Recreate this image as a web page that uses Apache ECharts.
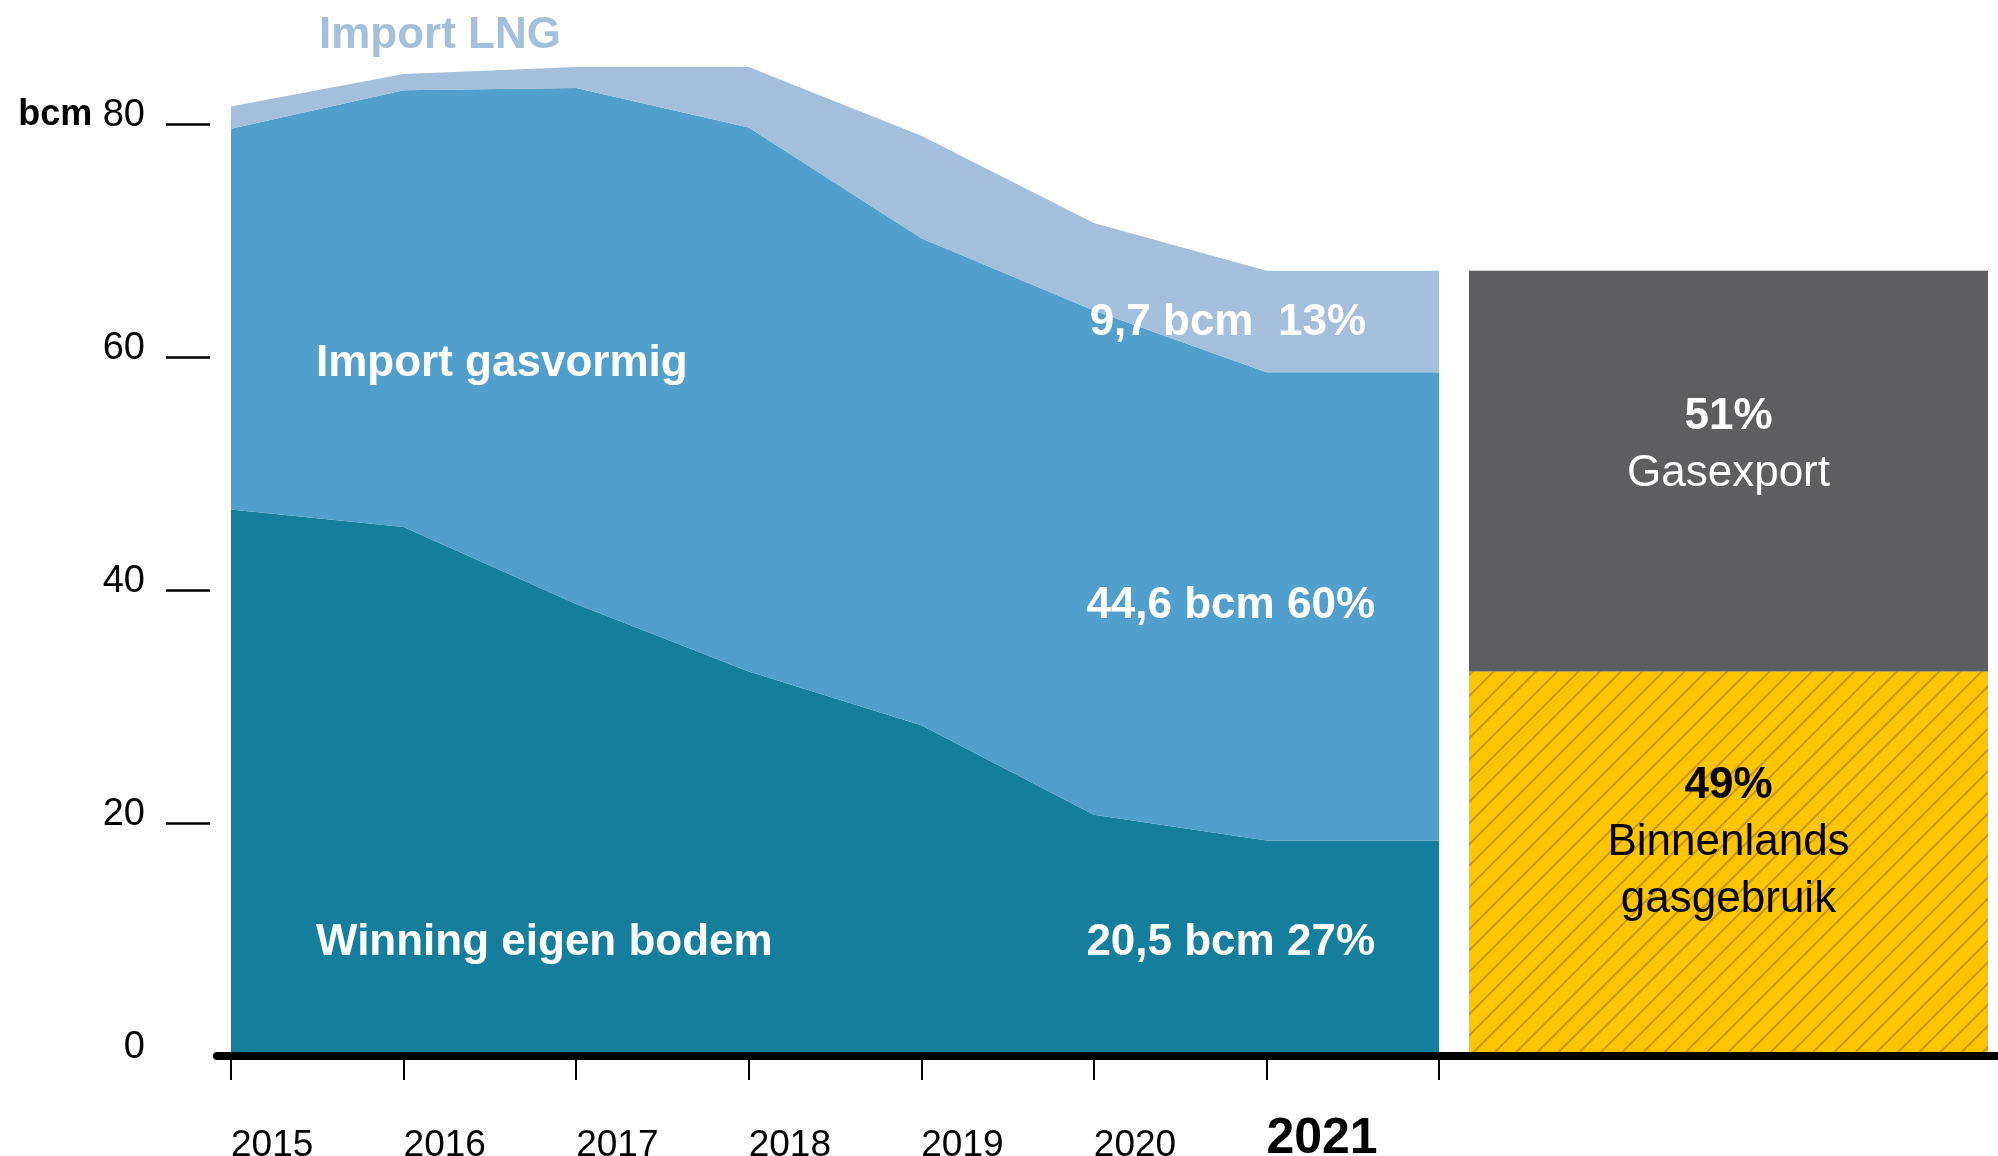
<!DOCTYPE html>
<html>
<head>
<meta charset="utf-8">
<script src="https://cdn.jsdelivr.net/npm/echarts@6/dist/echarts.min.js"></script>
<style>
  body { margin: 0; background: #fff; }
  #chart { width: 1998px; height: 1156px; }
</style>
</head>
<body>
<div id="chart"></div>
<script>
// years on the x axis, the last empty slot closes the 2021 step
var years = ['2015', '2016', '2017', '2018', '2019', '2020', '2021', ''];
// bcm
var winning = [46.9, 45.4, 38.8, 33.0, 28.4, 20.7, 18.5, 18.5];
var importGas = [32.7, 37.5, 44.3, 46.7, 41.8, 43.3, 40.2, 40.2];
var importLng = [1.9, 1.4, 1.8, 5.2, 8.8, 7.5, 8.7, 8.7];
// split of the 2021 total
var binnenlands = [33.0];
var gasexport = [34.4];
var yLabels = [0, 20, 40, 60, 80];
var yTicks = [20, 40, 60, 80];

var font = '"Liberation Sans", Arial, sans-serif';

var chart = echarts.init(document.getElementById('chart'));

//area series share everything but colour
function area(name, data, color) {
    return {
        name: name,
        type: 'line',
        stack: 'gas',
        data: data,
        xAxisIndex: 0,
        yAxisIndex: 0,
        symbol: 'none',
        clip: false,
        silent: true,
        lineStyle: { width: 0 },
        areaStyle: { color: color, opacity: 1 }
    };
}

//text inside the areas, placed in data coordinates
function note(x, y, text, side, dist, color) {
    return {
        value: [x, y],
        label: {
            show: true,
            formatter: text,
            position: side,
            distance: dist,
            opacity: 1,
            color: color || '#fff',
            fontFamily: font,
            fontWeight: 'bold',
            fontSize: 44
        }
    };
}

chart.setOption({
    animation: false,
    grid: [
        { left: 231, top: 124, width: 1208, height: 932, outerBoundsMode: 'none' },
        { left: 1469, top: 124, width: 519, height: 932, outerBoundsMode: 'none' },
        { left: 217, top: 124, right: 0, height: 932, outerBoundsMode: 'none' }
    ],
    xAxis: [
        {
            gridIndex: 0,
            type: 'category',
            data: years,
            boundaryGap: false,
            axisLine: { show: false },
            axisTick: { show: true, length: 24, interval: 0, lineStyle: { color: '#000', width: 2 } },
            axisLabel: {
                interval: 0,
                align: 'left',
                verticalAlign: 'bottom',
                margin: 108,
                color: '#000',
                fontFamily: font,
                fontSize: 37,
                formatter: function (v) { return v === '2021' ? '{b|2021}' : v; },
                rich: { b: { fontFamily: font, fontWeight: 'bold', fontSize: 50, color: '#000' } }
            },
            splitLine: { show: false }
        },
        {
            gridIndex: 1,
            type: 'category',
            data: ['2021'],
            show: false
        },
        {
            gridIndex: 2,
            type: 'value',
            min: 0,
            max: 1,
            z: 5,
            axisLine: { show: true, lineStyle: { color: '#000', width: 8 } },
            axisTick: { show: false },
            axisLabel: { show: false },
            splitLine: { show: false }
        }
    ],
    yAxis: [
        {
            gridIndex: 0,
            type: 'value',
            min: 0,
            max: 80,
            interval: 20,
            offset: 21,
            axisLine: { show: false },
            axisTick: { show: true, length: 44, customValues: yTicks, lineStyle: { color: '#000', width: 2.5 } },
            axisLabel: {
                customValues: yLabels,
                margin: 65,
                color: '#000',
                fontFamily: font,
                fontSize: 38,
                verticalAlign: 'middle',
                padding: [0, 0, 17, 0],
                formatter: function (v) { return v === 80 ? '{u|bcm} 80' : String(v); },
                rich: { u: { fontFamily: font, fontWeight: 'bold', fontSize: 36, color: '#000' } }
            },
            splitLine: { show: false }
        },
        { gridIndex: 1, type: 'value', min: 0, max: 80, show: false },
        { gridIndex: 2, type: 'value', min: 0, max: 1, show: false }
    ],
    series: [
        area('Winning eigen bodem', winning, '#157e9c'),
        area('Import gasvormig', importGas, '#519fcc'),
        area('Import LNG', importLng, '#a3bfdb'),
        {
            type: 'scatter',
            xAxisIndex: 0,
            yAxisIndex: 0,
            symbolSize: 0,
            clip: false,
            silent: true,
            z: 10,
            itemStyle: { opacity: 1 },
            data: [
                note(0, 87.6, 'Import LNG', 'right', 88, '#a3bfdb'),
                note(0, 59.4, 'Import gasvormig', 'right', 85),
                note(0, 9.7, 'Winning eigen bodem', 'right', 85),
                note(7, 62.9, '9,7 bcm  13%', 'left', 73),
                note(7, 38.6, '44,6 bcm 60%', 'left', 64),
                note(7, 9.7, '20,5 bcm 27%', 'left', 64)
            ]
        },
        {
            name: 'Binnenlands gasgebruik',
            type: 'bar',
            stack: 'use',
            xAxisIndex: 1,
            yAxisIndex: 1,
            barWidth: '100%',
            data: binnenlands,
            silent: true,
            itemStyle: {
                color: '#ffc600',
                decal: {
                    symbol: 'rect',
                    symbolSize: 1,
                    dashArrayX: [1, 0],
                    dashArrayY: [2, 13],
                    rotation: -Math.PI / 4,
                    color: 'rgba(160,120,0,0.6)'
                }
            },
            label: {
                show: true,
                position: 'insideTop',
                distance: 86,
                formatter: '{p|49%}\n{t|Binnenlands}\n{t|gasgebruik}',
                rich: {
                    p: { fontFamily: font, fontWeight: 'bold', fontSize: 44, color: '#000', lineHeight: 57 },
                    t: { fontFamily: font, fontSize: 44, color: '#000', lineHeight: 57 }
                }
            }
        },
        {
            name: 'Gasexport',
            type: 'bar',
            stack: 'use',
            xAxisIndex: 1,
            yAxisIndex: 1,
            barWidth: '100%',
            data: gasexport,
            silent: true,
            itemStyle: { color: '#5e5e60' },
            label: {
                show: true,
                position: 'insideTop',
                distance: 118,
                formatter: '{p|51%}\n{t|Gasexport}',
                rich: {
                    p: { fontFamily: font, fontWeight: 'bold', fontSize: 44, color: '#fff', lineHeight: 57 },
                    t: { fontFamily: font, fontSize: 44, color: '#fff', lineHeight: 57 }
                }
            }
        }
    ]
});
</script>
</body>
</html>
